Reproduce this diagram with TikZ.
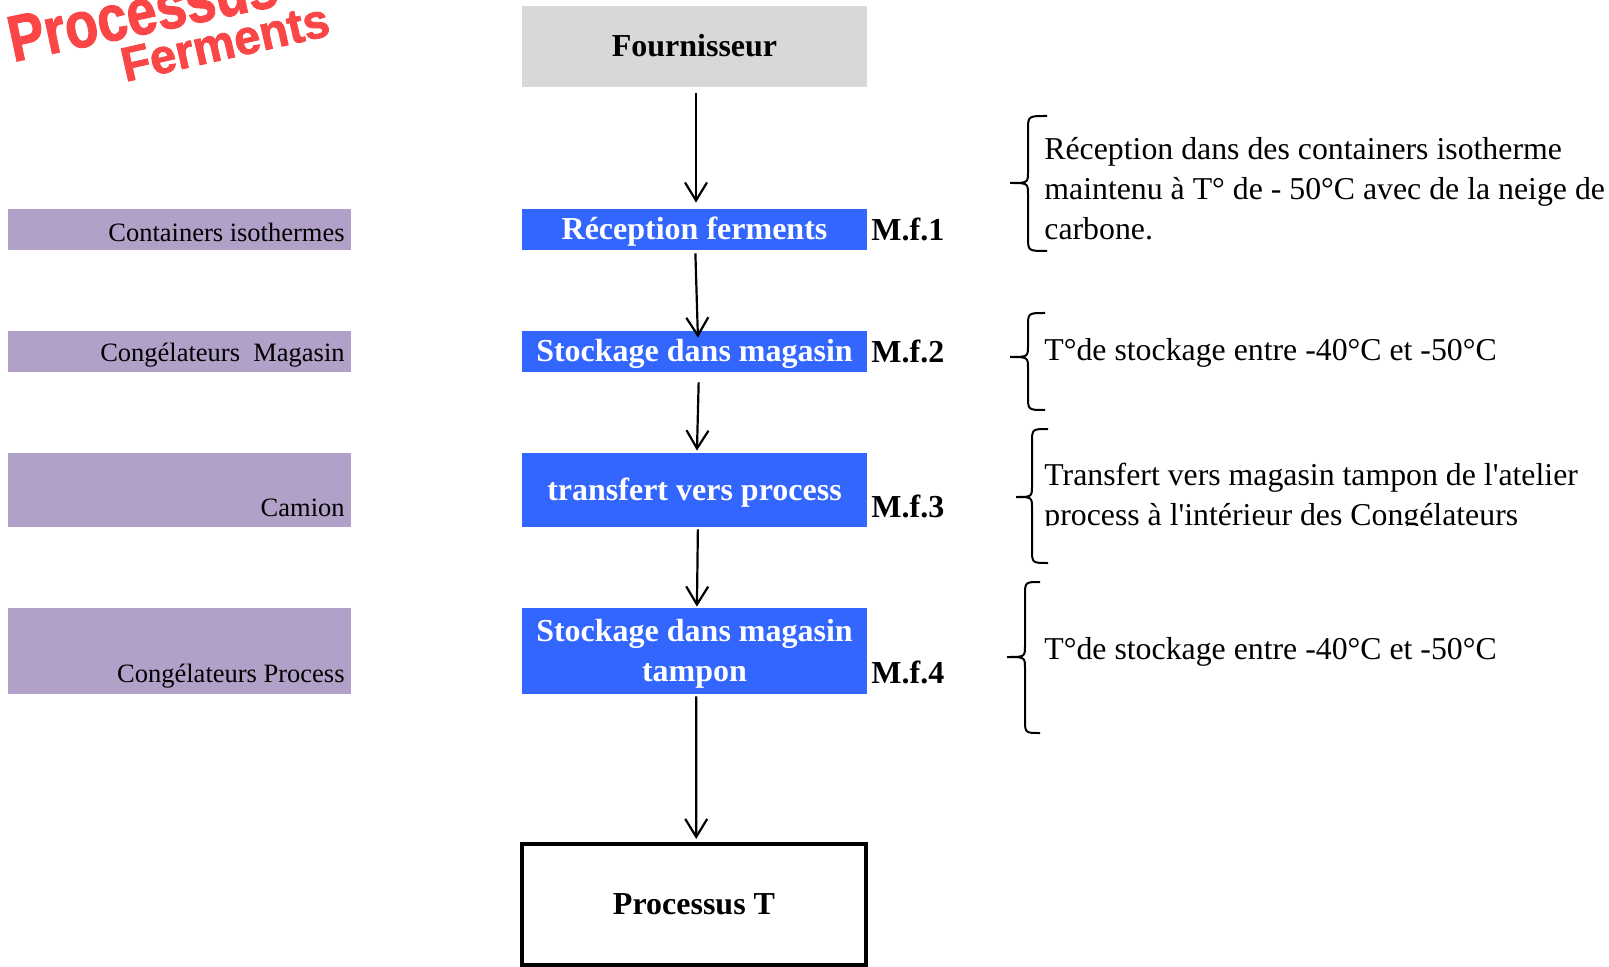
\documentclass[tikz,border=0pt]{standalone}
\usepackage{fontspec}
\setmainfont{Liberation Serif}
\newfontfamily\titlefont[FakeBold=1.8]{Liberation Sans Bold}
\usetikzlibrary{arrows.meta}
\definecolor{boxblue}{RGB}{51,102,255}
\definecolor{boxpurple}{RGB}{177,160,199}
\definecolor{boxgray}{RGB}{216,216,216}
\definecolor{titlered}{RGB}{250,70,70}
\newcommand{\mybrace}[6]{%
  \draw[bracestyle] (#1,#4) .. controls (#2,#4) .. (#2,#4+14) -- (#2,#5-12)
    .. controls (#2,#5) .. (#3,#5) .. controls (#2,#5) .. (#2,#5+12)
    -- (#2,#6-14) .. controls (#2,#6) .. (#1,#6);}
\tikzset{
  stepbox/.style={rectangle, fill=boxblue, text=white, inner sep=0pt,
    minimum width=172.5pt, text height=13pt, text depth=3pt,
    font=\bfseries\fontsize{16}{20}\selectfont, align=center},
  sidebox/.style={rectangle, fill=boxpurple, inner sep=0pt, minimum width=171.5pt},
  sidetext/.style={anchor=east, inner sep=0pt, font=\fontsize{13.25}{16}\selectfont},
  codetext/.style={anchor=west, inner sep=0pt, font=\bfseries\fontsize{16}{20}\selectfont},
  notetext/.style={anchor=west, inner sep=0pt, align=left, font=\fontsize{15.9}{20}\selectfont},
  arr/.style={line width=1.1pt, -{Straight Barb[length=9pt,width=11pt,line width=1.1pt]}},
  bracestyle/.style={line width=1pt},
  titletext/.style={inner sep=0pt, anchor=base west, text=titlered}
}
\begin{document}
\begin{tikzpicture}[x=0.5pt,y=-0.5pt]
\useasboundingbox (0,0) rectangle (1609,967);
% title
\begin{scope}
\clip (0,0) rectangle (1609,967);
\node[titletext, rotate=12, font=\titlefont\fontsize{27}{27}\selectfont, yscale=1.2] (title1) at (13,62) {Processus T};
\node[titletext, rotate=12.8, font=\titlefont\fontsize{21}{21}\selectfont, xscale=1.12, yscale=1.15] (title2) at (125,82) {Ferments};
\end{scope}
% main chain
\node[rectangle, fill=boxgray, inner sep=0pt, minimum width=172.5pt, minimum height=40.5pt,
  text height=13pt, text depth=3pt,
  font=\bfseries\fontsize{16}{20}\selectfont] (four) at (694.5,46.5) {Fournisseur};
\node[stepbox, minimum height=20.5pt] (rec) at (694.5,229.5) {Réception ferments};
\node[stepbox, minimum height=20.5pt] (sto) at (694.5,351.5) {Stockage dans magasin};
\node[stepbox, minimum height=37pt] (tra) at (694.5,490) {transfert vers process};
\node[stepbox, minimum height=43pt, text height=33pt, text depth=3pt] (tam) at (694.5,651) {Stockage dans magasin\\tampon};
\node[rectangle, draw, line width=2pt, inner sep=0pt, minimum width=172pt, minimum height=60.5pt,
  text height=13pt, text depth=3pt,
  font=\bfseries\fontsize{16}{20}\selectfont] (proc) at (694,904.5) {Processus T};
% codes
\node[codetext] (mf1) at (871,229) {M.f.1};
\node[codetext] (mf2) at (871,351) {M.f.2};
\node[codetext] (mf3) at (871,506) {M.f.3};
\node[codetext] (mf4) at (871,672) {M.f.4};
% side boxes
\node[sidebox, minimum height=20.5pt] (c1) at (179.5,229.5) {};
\node[sidebox, minimum height=20.5pt] (c2) at (179.5,351.5) {};
\node[sidebox, minimum height=37pt] (c3) at (179.5,490) {};
\node[sidebox, minimum height=43pt] (c4) at (179.5,651) {};
\node[sidetext] (l1) at (345,232) {Containers isothermes};
\node[sidetext] (l2) at (345,355) {Congélateurs\ \ Magasin};
\node[sidetext] (l3) at (345,508) {Camion};
\node[sidetext] (l4) at (345,676) {Congélateurs Process};
% arrows
\draw[arr, shorten <=3pt, shorten >=3pt] ([xshift=0.75pt]four.south) -- ([xshift=0.75pt]rec.north);
\draw[arr, shorten <=1.5pt, shorten >=-3.5pt] ([xshift=0.4pt]rec.south) -- ([xshift=1.6pt]sto.north);
\draw[arr, shorten <=5pt, shorten >=1pt] ([xshift=2.2pt]sto.south) -- ([xshift=1.2pt]tra.north);
\draw[arr, shorten <=1pt, shorten >=0.5pt] ([xshift=1.7pt]tra.south) -- ([xshift=1.2pt]tam.north);
\draw[arr, shorten <=1pt, shorten >=1.5pt] ([xshift=0.9pt]tam.south) -- ([xshift=1.1pt]proc.north);
% notes
\node[notetext] (n1) at (1044,189) {Réception dans des containers isotherme\\maintenu à T° de - 50°C avec de la neige de\\carbone.};
\node[notetext] (n2) at (1044,353) {T°de stockage entre -40°C et -50°C};
\begin{scope}
\clip (1000,420) rectangle (1609,525);
\node[notetext] (n3) at (1044,498) {Transfert vers magasin tampon de l\textquotesingle atelier\\process à l\textquotesingle intérieur des Congélateurs};
\end{scope}
\node[notetext] (n4) at (1044,652) {T°de stockage entre -40°C et -50°C};
% braces
\mybrace{1047}{1028}{1010}{116}{183}{251}
\mybrace{1045}{1028}{1010}{313}{357}{410}
\mybrace{1048}{1032}{1016}{429}{497}{563}
\mybrace{1040}{1025}{1007}{582}{657}{733}
\end{tikzpicture}
\end{document}
